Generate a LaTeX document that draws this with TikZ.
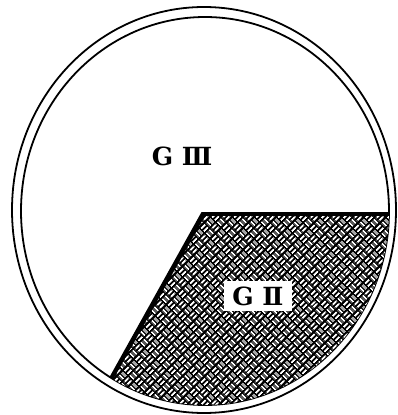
\documentclass[tikz,border=0pt]{standalone}
\usepackage{fontspec}
\setmainfont{DejaVu Serif}
\usetikzlibrary{patterns.meta}

\tikzdeclarepattern{
  name=weave,
  type=uncolored,
  bottom left={(0pt,0pt)}, top right={(16pt,16pt)},
  tile size={(16pt,16pt)},
  tile transformation={rotate=45},
  code={
    \draw[line width=2pt]
      (1pt,2pt) -- (7pt,2pt) (1pt,6pt) -- (7pt,6pt)
      (9pt,10pt) -- (15pt,10pt) (9pt,14pt) -- (15pt,14pt)
      (10pt,1pt) -- (10pt,7pt) (14pt,1pt) -- (14pt,7pt)
      (2pt,9pt) -- (2pt,15pt) (6pt,9pt) -- (6pt,15pt);
  }
}

\begin{document}
\begin{tikzpicture}[x=1pt, y=-1pt,
    rim/.style={line width=1.8pt},
    zonelabel/.style={font=\fontsize{25}{25}\selectfont\bfseries, inner sep=3pt}]
  \useasboundingbox (0,0) rectangle (398,415);

  % rim of the section
  \draw[rim] (204,210) ellipse [x radius=192pt, y radius=203pt];
  \draw[rim] (205,211) ellipse [x radius=184pt, y radius=194pt];

  % hatched zone
  \begin{scope}
    \clip (205,211) ellipse [x radius=184pt, y radius=194pt];
    \fill[black] (202,213) -- (420,213) -- (420,430) -- (81,430) -- cycle;
    \fill[pattern=weave, pattern color=white] (205,216) -- (420,216) -- (420,430) -- (85,430) -- cycle;
    \draw[line width=1.8pt] (81,430) -- (202,213) -- (420,213);
  \end{scope}

  \node[zonelabel] (g3) at (182,156) {G Ⅲ};
  \node[zonelabel, fill=white, inner xsep=8pt, inner ysep=6pt] (g2) at (258,296) {G Ⅱ};
\end{tikzpicture}
\end{document}
